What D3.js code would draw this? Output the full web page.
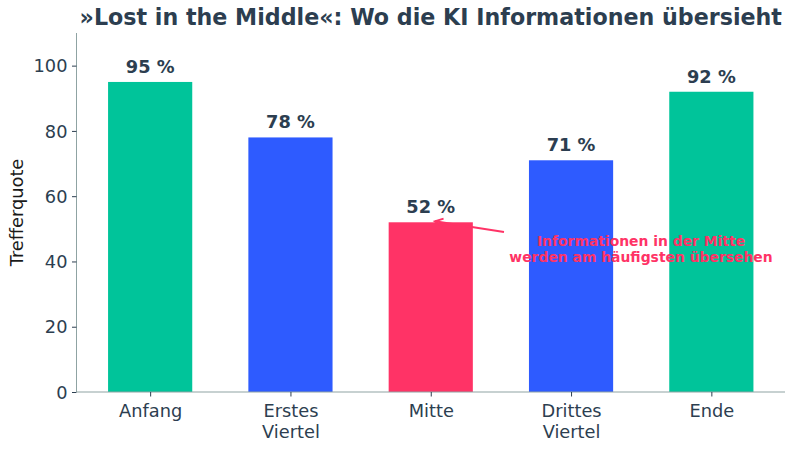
<!DOCTYPE html>
<html><head><meta charset="utf-8">
<script src="https://cdn.jsdelivr.net/npm/d3@7"></script>
<style>body{margin:0;background:#fff}svg{display:block;font-family:"DejaVu Sans",sans-serif}</style>
</head><body><svg id="c" width="800" height="450"></svg>
<script>
const categories = ["Anfang", "Erstes\nViertel", "Mitte", "Drittes\nViertel", "Ende"];
const values = [95, 78, 52, 71, 92];
const barColors = ["#00c49a", "#2e5bff", "#ff3366", "#2e5bff", "#00c49a"];
const yTicks = [0, 20, 40, 60, 80, 100];
const title = "»Lost in the Middle«: Wo die KI Informationen übersieht";
const yLabel = "Trefferquote";
const annotation = ["Informationen in der Mitte", "werden am häufigsten übersehen"];

const svg = d3.select("#c");
const L = 76.5, R = 785, T = 33, B = 392;
const x = d3.scaleLinear().domain([-0.525, 4.525]).range([L, R]);
const y = d3.scaleLinear().domain([0, 110]).range([B, T]);
const dark = "#2c3e50", spine = "#8fa3a3";
const bw = x(0.6) - x(0);
const fs = 17.8;

svg.selectAll("rect.bar").data(values).join("rect").attr("class","bar")
  .attr("x",(d,i)=>x(i-0.3)).attr("width",bw)
  .attr("y",d=>y(d)).attr("height",d=>B-y(d))
  .attr("fill",(d,i)=>barColors[i]);

svg.selectAll("text.val").data(values).join("text").attr("class","val")
  .attr("x",(d,i)=>x(i)).attr("y",d=>y(d)-9).attr("text-anchor","middle")
  .attr("font-size",fs).attr("font-weight","bold").attr("fill",dark)
  .text(d=>d+" %");

// axes
const ya = svg.append("g").attr("transform",`translate(${L},0)`)
  .call(d3.axisLeft(y).tickValues(yTicks).tickSize(4.5).tickPadding(4.5));
ya.select(".domain").attr("stroke",spine).attr("d",`M0,${B}V${T}`);
ya.selectAll(".tick line").attr("stroke",dark);
ya.selectAll(".tick text").attr("font-size",fs).attr("fill",dark).attr("font-family","DejaVu Sans").attr("dy","0.35em");

const xa = svg.append("g").attr("transform",`translate(0,${B})`)
  .call(d3.axisBottom(x).tickValues(d3.range(categories.length)).tickSize(4.5).tickFormat(""));
xa.select(".domain").attr("stroke",spine).attr("d",`M${L},0H${R}`);
xa.selectAll(".tick line").attr("stroke",dark);
xa.selectAll(".tick").each(function(d){
  const t = d3.select(this).append("text").attr("text-anchor","middle").attr("font-size",fs)
    .attr("fill",dark).attr("font-family","DejaVu Sans");
  categories[d].split("\n").forEach((s,k)=>t.append("tspan").attr("x",0).attr("y",25+k*21).text(s));
});

svg.append("text").attr("x",(L+R)/2).attr("y",25).attr("text-anchor","middle")
  .attr("font-size",22.2).attr("font-weight","bold").attr("fill",dark).text(title);

svg.append("text").attr("transform",`translate(23,${(T+B)/2}) rotate(-90)`).attr("text-anchor","middle")
  .attr("font-size",fs).attr("fill","#1a1a1a").text(yLabel);

// annotation
const ax = x(2.03), ay = y(values[2]) - 1;
const red = "#ff3366";
const sx = 504, sy = 232;
svg.append("line").attr("x1",sx).attr("y1",sy).attr("x2",ax).attr("y2",ay).attr("stroke",red).attr("stroke-width",2);
const ang = Math.atan2(ay-sy, ax-sx);
const hl = 9, hw = 0.45;
svg.append("path").attr("d",`M${ax+Math.cos(ang+Math.PI-hw)*hl},${ay+Math.sin(ang+Math.PI-hw)*hl}L${ax},${ay}L${ax+Math.cos(ang+Math.PI+hw)*hl},${ay+Math.sin(ang+Math.PI+hw)*hl}`)
  .attr("fill","none").attr("stroke",red).attr("stroke-width",2);
const at = svg.append("text").attr("text-anchor","middle").attr("font-size",13.9).attr("font-weight","bold").attr("fill",red);
annotation.forEach((s,k)=>at.append("tspan").attr("x",641).attr("y",246+k*16).text(s));
</script></body></html>
